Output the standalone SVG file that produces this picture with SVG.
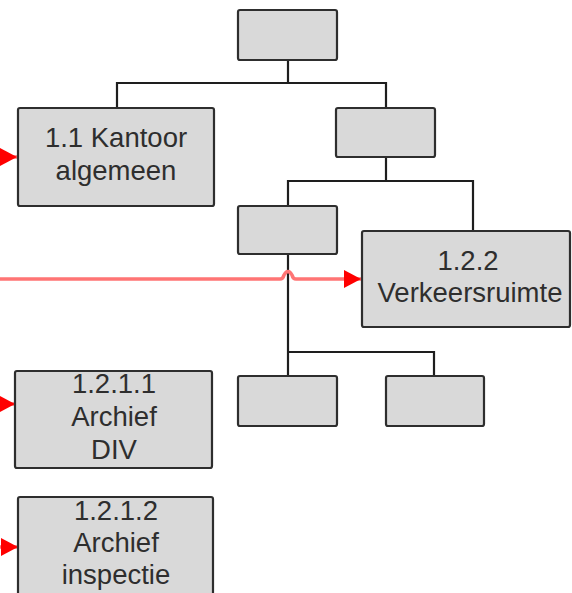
<svg xmlns="http://www.w3.org/2000/svg" width="572" height="593" viewBox="0 0 572 593">
<style>
.box{fill:#d9d9d9;stroke:#2e2e2e;stroke-width:2.2}
.lbl{font-family:"Liberation Sans",Arial,sans-serif;font-size:27.5px;fill:#2e2e2e;text-anchor:middle}
.tree{fill:none;stroke:#1e1e1e;stroke-width:2.2}
.red{fill:none;stroke:#ff7474;stroke-width:3.5}
</style>
<defs>
<marker id="ah" markerUnits="userSpaceOnUse" markerWidth="17" markerHeight="18" refX="17" refY="9" orient="auto" viewBox="0 0 17 18">
<path d="M0,0 L17,9 L0,18 z" fill="#ff0000"/>
</marker>
</defs>
<rect width="572" height="593" fill="#fff"/>
<g id="connectors">
<path class="tree" d="M288,60 V83 M117,108 V83 H386 V108"/>
<path class="tree" d="M386,157 V181 M288,206 V181 H473 V231"/>
<path class="tree" d="M288,254 V376 M288,352 H434 V376"/>
<path class="red" d="M0,279 H280 Q283,279 284,275 Q288,268 292,275 Q293,279 296,279 H361" marker-end="url(#ah)"/>
<path class="red" d="M-20,157 H17" marker-end="url(#ah)"/>
<path class="red" d="M-20,404 H15" marker-end="url(#ah)"/>
<path class="red" d="M-20,547 H18" marker-end="url(#ah)"/>
</g>
<g id="n-root"><rect class="box" x="238" y="10" width="99" height="50" rx="2"/></g>
<g id="n-1-1"><rect class="box" x="18" y="108" width="196" height="98" rx="2"/>
<text class="lbl" x="116" y="147">1.1 Kantoor</text><text class="lbl" x="116" y="180">algemeen</text></g>
<g id="n-1-2"><rect class="box" x="336" y="108" width="99" height="49" rx="2"/></g>
<g id="n-1-2-1"><rect class="box" x="238" y="206" width="99" height="48" rx="2"/></g>
<g id="n-1-2-2"><rect class="box" x="362" y="231" width="208" height="96" rx="2"/>
<text class="lbl" x="468" y="270">1.2.2</text><text class="lbl" x="470" y="302">Verkeersruimte</text></g>
<g id="n-a"><rect class="box" x="238" y="376" width="99" height="50" rx="2"/></g>
<g id="n-b"><rect class="box" x="386" y="376" width="98" height="50" rx="2"/></g>
<g id="n-1-2-1-1"><rect class="box" x="15" y="371" width="197" height="97" rx="2"/>
<text class="lbl" x="114" y="393">1.2.1.1</text><text class="lbl" x="114" y="426">Archief</text><text class="lbl" x="114" y="459">DIV</text></g>
<g id="n-1-2-1-2"><rect class="box" x="18" y="497" width="195" height="110" rx="2"/>
<text class="lbl" x="116" y="520">1.2.1.2</text><text class="lbl" x="116" y="552">Archief</text><text class="lbl" x="116" y="584">inspectie</text></g>
</svg>
